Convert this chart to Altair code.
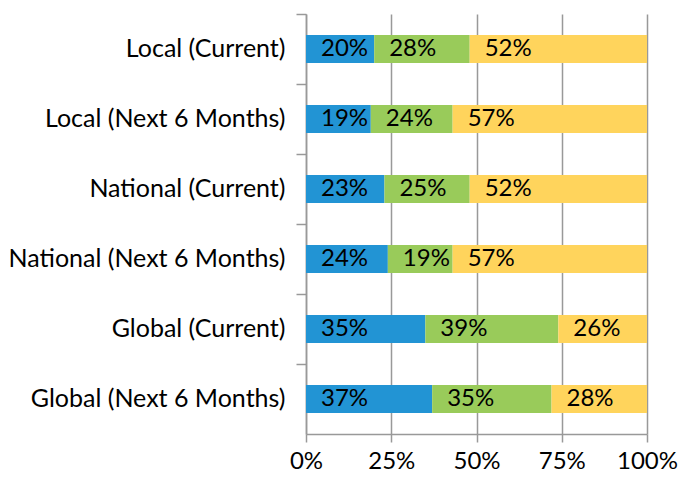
import altair as alt
import pandas as pd

categories = ["Local (Current)", "Local (Next 6 Months)", "National (Current)",
              "National (Next 6 Months)", "Global (Current)", "Global (Next 6 Months)"]
series_names = ["Series 1", "Series 2", "Series 3"]
series1 = [20, 19, 23, 24, 35, 37]
series2 = [28, 24, 25, 19, 39, 35]
series3 = [52, 57, 52, 57, 26, 28]
colors = ["#2294d4", "#99cb5a", "#ffd45c"]

rows = []
for i, c in enumerate(categories):
    for k, (name, vals) in enumerate(zip(series_names, [series1, series2, series3])):
        rows.append({"cat": c, "series": name, "order": k, "value": vals[i],
                     "label": f"{vals[i]}%"})
df = pd.DataFrame(rows)

FONT = "Lato"
FS_Y = 25
FS_X = 24
FS_TEXT = 24

base = alt.Chart(df).transform_stack(
    stack="value", as_=["v0", "v1"], groupby=["cat"],
    sort=[alt.SortField("order", order="ascending")]
)

yenc = alt.Y("cat:N", sort=categories, title=None,
             scale=alt.Scale(paddingInner=0, paddingOuter=0),
             axis=alt.Axis(bandPosition=0, tickSize=10, labelLimit=0,
                           labelPadding=11, domainColor="#999999", tickColor="#999999",
                           domainWidth=1.5, tickWidth=1.5,
                           labelFont=FONT, labelFontSize=FS_Y, labelColor="black", grid=False))

bars = base.mark_bar(size=28).encode(
    y=yenc,
    x=alt.X("v0:Q", scale=alt.Scale(domain=[0, 100]), title=None,
            axis=alt.Axis(values=[0, 25, 50, 75, 100], labelExpr="datum.value + '%'",
                          grid=True, gridColor="#999999", gridWidth=1.5,
                          domainColor="#999999", domainWidth=1.5,
                          tickColor="#999999", tickWidth=1.5, tickSize=8,
                          labelFlush=False, labelOverlap=False,
                          labelPadding=7, labelFont=FONT, labelFontSize=FS_X,
                          labelColor="black")),
    x2="v1:Q",
    color=alt.Color("series:N", scale=alt.Scale(domain=series_names, range=colors), legend=None),
)

text = base.mark_text(align="left", baseline="middle", dx=15, font=FONT, fontSize=FS_TEXT,
                      color="black").encode(
    y=alt.Y("cat:N", sort=categories),
    x="v0:Q",
    text="label:N",
)

chart = (bars + text).properties(
    width=670, height=465,
    autosize=alt.AutoSizeParams(type="fit", contains="padding"),
    padding={"left": 0, "right": 0, "top": 5, "bottom": 0},
).configure_view(stroke=None)

chart.save("out.html", embed_options={"renderer": "svg", "actions": False})
